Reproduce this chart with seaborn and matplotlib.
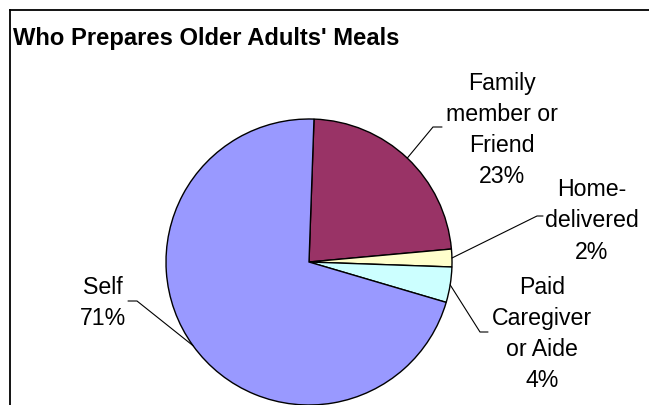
import matplotlib
matplotlib.use("Agg")
import matplotlib.pyplot as plt
import seaborn as sns
import numpy as np

# Who prepares meals for older adults (percent of respondents)
categories = ["Family member or Friend", "Home-delivered", "Paid Caregiver or Aide", "Self"]
shares = [23, 2, 4, 71]
label_texts = ["Family\nmember or\nFriend", "Home-\ndelivered", "Paid\nCaregiver\nor Aide", "Self"]
slice_colors = ["#993366", "#FFFFCC", "#CCFFFF", "#9999FF"]
title = "Who Prepares Older Adults' Meals"

sns.set_theme(style="white")
plt.rcParams["font.family"] = ["Liberation Sans", "DejaVu Sans"]

W, H = 649, 406
fig = plt.figure(figsize=(W / 100, H / 100), dpi=100)
ax = fig.add_axes([0, 0, 1, 1])

# pixel-style coordinates: origin bottom-left, 1 unit = 1 px
cx, cy, r = 309, H - 263, 143
wedges, _ = ax.pie(
    shares,
    colors=slice_colors,
    startangle=88,
    counterclock=False,
    center=(cx, cy),
    radius=r,
    wedgeprops=dict(edgecolor="black", linewidth=1.0),
    frame=False,
)
ax.set_xlim(0, W)
ax.set_ylim(0, H)
ax.set_aspect("equal")
ax.axis("off")

# label block centres and leader-line elbows (x, y from top)
label_pos = [(502, 130), (592, 221), (542, 334), (103, 303)]
elbows = [((433, 128), (442, 128)),
          ((537, 217), (543, 217)),
          ((480, 333), (488, 333)),
          ((137, 302), (128, 302))]

fs = 16.7
for w, txt, share, (tx, ty), ((ex, ey), (hx, hy)) in zip(wedges, label_texts, shares, label_pos, elbows):
    mid = np.deg2rad((w.theta1 + w.theta2) / 2)
    sx, sy = cx + r * np.cos(mid), cy + r * np.sin(mid)
    ax.plot([sx, ex, hx], [sy, H - ey, H - hy], color="black", linewidth=0.8,
            solid_joinstyle="miter")
    ax.text(tx, H - ty, f"{txt}\n{share}%", fontsize=fs, ha="center", va="center",
            multialignment="center", linespacing=1.45, color="black")

ax.text(13, H - 45, title, fontsize=17.1, fontweight="bold", ha="left", va="baseline",
        color="black")

# chart-area frame (left and top edges)
ax.plot([10, 10], [0, H - 11], color="black", linewidth=1.3, clip_on=False,
        solid_capstyle="projecting")
ax.plot([10, W], [H - 11, H - 11], color="black", linewidth=1.3, clip_on=False,
        solid_capstyle="projecting")

fig.savefig("out.png", dpi=100)
